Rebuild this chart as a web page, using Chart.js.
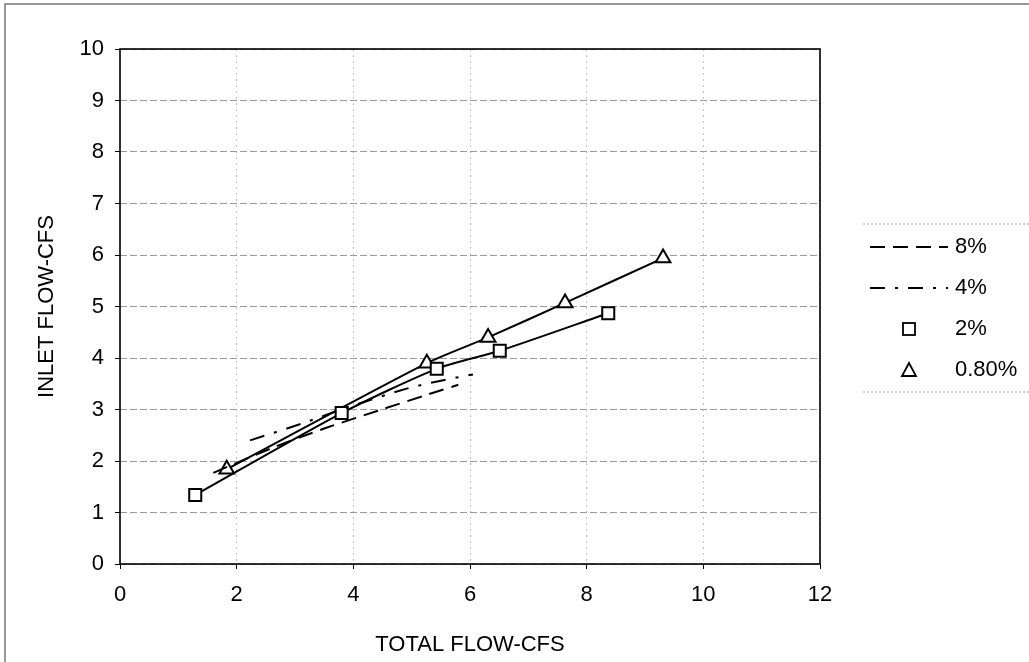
<!DOCTYPE html>
<html lang="en">
<head>
  <meta charset="UTF-8">
  <title>Inlet Flow vs Total Flow</title>
  <script src="https://cdn.jsdelivr.net/npm/chart.js"></script>
  <style>
    body { margin: 0; background: #fff; }
    canvas { display: block; }
  </style>
</head>
<body>
<canvas id="chart" width="1029" height="662"></canvas>

<script>
  // values (total flow, inlet flow in cfs)
  const slope8 = [[1.6, 1.77], [2.6, 2.25], [3.5, 2.63], [4.46, 2.99], [5.3, 3.3], [5.8, 3.48]];
  const slope4 = [[2.23, 2.4], [3.1, 2.72], [3.9, 3.04], [4.9, 3.4], [5.5, 3.56], [6.05, 3.68]];
  const slope2 = [[1.29, 1.34], [3.8, 2.93], [5.43, 3.79], [6.51, 4.14], [8.37, 4.87]];
  const slope08 = [[1.83, 1.84], [5.26, 3.9], [6.31, 4.4], [7.63, 5.07], [9.31, 5.94]];

  const legendLabels = ["8%", "4%", "2%", "0.80%"];
  const xTitle = "TOTAL FLOW-CFS";
  const yTitle = "INLET FLOW-CFS";

  const FONT = "'Liberation Sans', Arial, sans-serif";
  const toXY = arr => arr.map(p => ({ x: p[0], y: p[1] }));

  // plot frame, outer frame and the right-hand key
  const framePlugin = {
    id: "frame",
    afterDraw(chart) {
      const ctx = chart.ctx;
      const a = chart.chartArea;
      ctx.save();
      ctx.strokeStyle = "#000";
      ctx.lineWidth = 1.6;
      ctx.strokeRect(a.left, a.top, a.right - a.left, a.bottom - a.top);

      ctx.strokeStyle = "#777";
      ctx.lineWidth = 1.5;
      ctx.beginPath();
      ctx.moveTo(5, 662); ctx.lineTo(5, 4); ctx.lineTo(1029, 4);
      ctx.stroke();

      // key box edges (dotted)
      ctx.strokeStyle = "#999";
      ctx.lineWidth = 1;
      ctx.setLineDash([2, 2]);
      ctx.beginPath();
      ctx.moveTo(863, 224); ctx.lineTo(1029, 224);
      ctx.moveTo(863, 392); ctx.lineTo(1029, 392);
      ctx.stroke();
      ctx.setLineDash([]);

      const rows = [247, 288, 329, 370];
      const dashes = [[15, 8], [15, 10, 3, 10]];
      ctx.strokeStyle = "#000";
      ctx.lineWidth = 2;
      for (let i = 0; i < 2; i++) {
        ctx.setLineDash(dashes[i]);
        ctx.beginPath();
        ctx.moveTo(870, rows[i]);
        ctx.lineTo(948, rows[i]);
        ctx.stroke();
      }
      ctx.setLineDash([]);
      ctx.lineWidth = 1.8;
      ctx.strokeRect(903, rows[2] - 6, 12, 12);
      ctx.beginPath();
      ctx.moveTo(909, rows[3] - 7);
      ctx.lineTo(916, rows[3] + 6);
      ctx.lineTo(902, rows[3] + 6);
      ctx.closePath();
      ctx.stroke();

      ctx.fillStyle = "#000";
      ctx.font = "22px " + FONT;
      ctx.textBaseline = "middle";
      ctx.textAlign = "left";
      legendLabels.forEach((t, i) => ctx.fillText(t, 955, rows[i]));
      ctx.restore();
    }
  };

  new Chart(document.getElementById("chart"), {
    type: "line",
    data: {
      datasets: [
        {
          label: legendLabels[0],
          data: toXY(slope8),
          borderColor: "#000",
          borderWidth: 2,
          borderDash: [15, 8],
          pointRadius: 0,
          tension: 0.3
        },
        {
          label: legendLabels[1],
          data: toXY(slope4),
          borderColor: "#000",
          borderWidth: 2,
          borderDash: [15, 10, 3, 10],
          pointRadius: 0,
          tension: 0.3
        },
        {
          label: legendLabels[2],
          data: toXY(slope2),
          borderColor: "#000",
          borderWidth: 2,
          pointStyle: "rect",
          pointRadius: 8.5,
          pointBorderWidth: 2,
          pointBackgroundColor: "#fff",
          pointBorderColor: "#000",
          tension: 0.25
        },
        {
          label: legendLabels[3],
          data: toXY(slope08),
          borderColor: "#000",
          borderWidth: 2,
          pointStyle: "triangle",
          pointRadius: 8.5,
          pointBorderWidth: 2,
          pointBackgroundColor: "#fff",
          pointBorderColor: "#000",
          tension: 0.25
        }
      ]
    },
    options: {
      responsive: false,
      animation: false,
      layout: { padding: { left: 0, top: 49, right: 209, bottom: 0 } },
      plugins: {
        legend: { display: false },
        tooltip: { enabled: false }
      },
      scales: {
        x: {
          type: "linear",
          min: 0,
          max: 12,
          afterFit: s => { s.height = 98; },
          ticks: { stepSize: 2, color: "#000", padding: 13, font: { size: 22, family: FONT } },
          grid: { color: "#c4c4c4", lineWidth: 1, tickLength: 5, tickColor: "#000", tickBorderDash: [] },
          border: { display: false, dash: [2, 4] },
          title: {
            display: true,
            text: xTitle,
            color: "#000",
            font: { size: 22, family: FONT },
            padding: { top: 0, bottom: 4 }
          }
        },
        y: {
          min: 0,
          max: 10,
          afterFit: s => { s.width = 120; },
          ticks: { stepSize: 1, color: "#000", padding: 11, font: { size: 22, family: FONT } },
          grid: { color: "#9a9a9a", lineWidth: 1, tickLength: 5, tickColor: "#000", tickBorderDash: [] },
          border: { display: false, dash: [7, 3] },
          title: {
            display: true,
            text: yTitle,
            color: "#000",
            font: { size: 22, family: FONT },
            padding: { top: 34, bottom: 0 }
          }
        }
      }
    },
    plugins: [framePlugin]
  });
</script>
</body>
</html>
